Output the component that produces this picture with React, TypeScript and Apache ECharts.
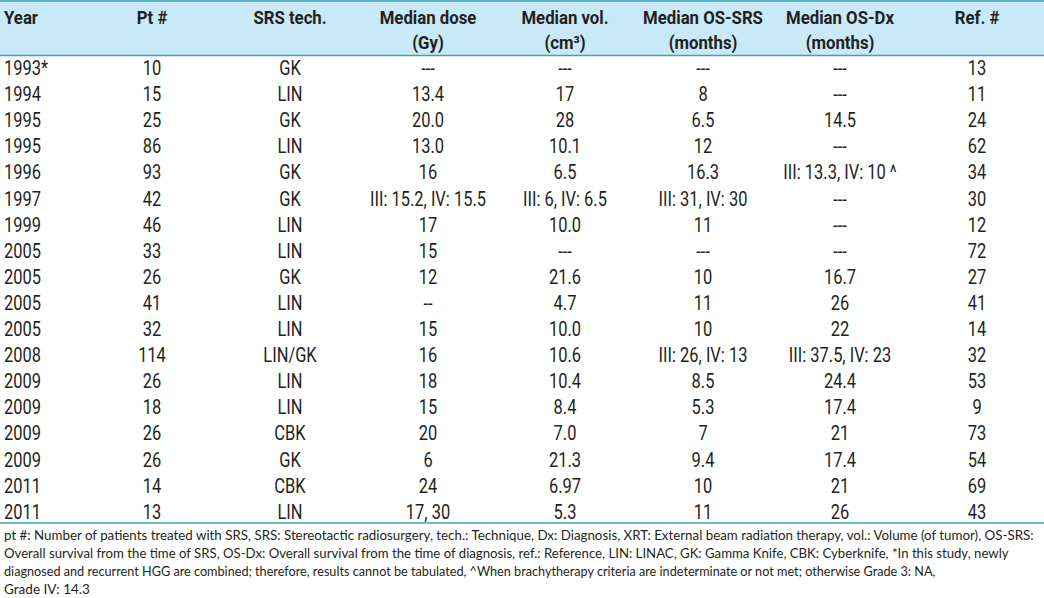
import React, { useEffect, useRef } from "react";
import * as echarts from "echarts";

const headersLine1 = ["Year", "Pt #", "SRS tech.", "Median dose", "Median vol.", "Median OS-SRS", "Median OS-Dx", "Ref. #"];
const headersLine2 = ["", "", "", "(Gy)", "(cm\u00B3)", "(months)", "(months)", ""];

const years = ["1993*", "1994", "1995", "1995", "1996", "1997", "1999", "2005", "2005", "2005", "2005", "2008", "2009", "2009", "2009", "2009", "2011", "2011"];
const patients = ["10", "15", "25", "86", "93", "42", "46", "33", "26", "41", "32", "114", "26", "18", "26", "26", "14", "13"];
const techs = ["GK", "LIN", "GK", "LIN", "GK", "GK", "LIN", "LIN", "GK", "LIN", "LIN", "LIN/GK", "LIN", "LIN", "CBK", "GK", "CBK", "LIN"];
const doses = ["---", "13.4", "20.0", "13.0", "16", "III: 15.2, IV: 15.5", "17", "15", "12", "--", "15", "16", "18", "15", "20", "6", "24", "17, 30"];
const volumes = ["---", "17", "28", "10.1", "6.5", "III: 6, IV: 6.5", "10.0", "---", "21.6", "4.7", "10.0", "10.6", "10.4", "8.4", "7.0", "21.3", "6.97", "5.3"];
const osSrs = ["---", "8", "6.5", "12", "16.3", "III: 31, IV: 30", "11", "---", "10", "11", "10", "III: 26, IV: 13", "8.5", "5.3", "7", "9.4", "10", "11"];
const osDx = ["---", "---", "14.5", "---", "III: 13.3, IV: 10 ^", "---", "---", "---", "16.7", "26", "22", "III: 37.5, IV: 23", "24.4", "17.4", "21", "17.4", "21", "26"];
const refs = ["13", "11", "24", "62", "34", "30", "12", "72", "27", "41", "14", "32", "53", "9", "73", "54", "69", "43"];

const footnotes = [
  "pt #: Number of patients treated with SRS, SRS: Stereotactic radiosurgery, tech.: Technique, Dx: Diagnosis, XRT: External beam radiation therapy, vol.: Volume (of tumor), OS-SRS:",
  "Overall survival from the time of SRS, OS-Dx: Overall survival from the time of diagnosis, ref.: Reference, LIN: LINAC, GK: Gamma Knife, CBK: Cyberknife, *In this study, newly",
  "diagnosed and recurrent HGG are combined; therefore, results cannot be tabulated, ^When brachytherapy criteria are indeterminate or not met; otherwise Grade 3: NA,",
  "Grade IV: 14.3",
];
const footnoteWidths = [1033, 1006, 933, 86];

const columns = [years, patients, techs, doses, volumes, osSrs, osDx, refs];

const W = 1044;
const H = 598;
const colX = [4, 152, 290, 428, 565, 703, 840, 977];
const colAlign = ["left", "center", "center", "center", "center", "center", "center", "center"];
const FONT = 'Roboto, "DejaVu Sans", sans-serif';
const FOOT_FONT = 'Lato, "Open Sans", sans-serif';
const TEXT = "#231f20";
const LINE = "#3aa3bd";

function measure(text: string, font: string): number {
  const c = document.createElement("canvas").getContext("2d");
  if (!c) return 100;
  c.font = font;
  return c.measureText(text).width;
}

export default function App() {
  const ref = useRef<HTMLDivElement>(null);
  useEffect(() => {
    if (!ref.current) return;
    const chart = echarts.init(ref.current, undefined, { renderer: "svg" });
    const headFont = `bold 18px ${FONT}`;
    const bodyFont = `20px ${FONT}`;
    const footFont = `14px ${FOOT_FONT}`;
    const headScale = 120 / measure("Median OS-SRS", headFont);
    const bodyScale = 116 / measure("III: 15.2, IV: 15.5", bodyFont);
    const els: any[] = [];
    els.push({ type: "rect", shape: { x: 0, y: 0, width: W, height: 56 }, style: { fill: "#c9e8f8" }, silent: true });
    els.push({ type: "line", shape: { x1: 0, y1: 1, x2: W, y2: 1 }, style: { stroke: LINE, lineWidth: 1.5 } });
    els.push({ type: "line", shape: { x1: 0, y1: 55.5, x2: W, y2: 55.5 }, style: { stroke: LINE, lineWidth: 1.5 } });
    els.push({ type: "line", shape: { x1: 0, y1: 523, x2: W, y2: 523 }, style: { stroke: LINE, lineWidth: 1.5 } });
    headersLine1.forEach((h, c) => {
      els.push({ type: "text", x: colX[c], y: 18, scaleX: headScale, style: { text: h, font: headFont, fill: TEXT, align: colAlign[c], verticalAlign: "middle" } });
      if (headersLine2[c]) {
        els.push({ type: "text", x: colX[c], y: 43, scaleX: headScale, style: { text: headersLine2[c], font: headFont, fill: TEXT, align: colAlign[c], verticalAlign: "middle" } });
      }
    });
    columns.forEach((col, c) => {
      col.forEach((v, r) => {
        els.push({ type: "text", x: colX[c], y: 68 + 26.1 * r, scaleX: bodyScale, style: { text: v, font: bodyFont, fill: TEXT, align: colAlign[c], verticalAlign: "middle" } });
      });
    });
    footnotes.forEach((f, i) => {
      const s = footnoteWidths[i] / measure(f, footFont);
      els.push({ type: "text", x: 4, y: 535 + 17.7 * i, scaleX: s, style: { text: f, font: footFont, fill: TEXT, align: "left", verticalAlign: "middle" } });
    });
    chart.setOption({ animation: false, graphic: els });
    return () => chart.dispose();
  }, []);
  return <div ref={ref} style={{ position: "fixed", left: 0, top: 0, width: W, height: H, background: "#fff" }} />;
}
